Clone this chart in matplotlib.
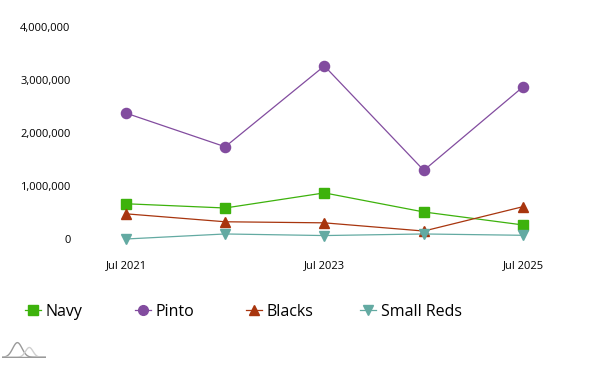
#!/usr/bin/env python3
import datetime as dt
import numpy as np
import matplotlib
matplotlib.use("Agg")
import matplotlib.pyplot as plt
import matplotlib.dates as mdates
from matplotlib.ticker import FuncFormatter
from matplotlib.lines import Line2D

dates = [dt.date(2021, 7, 1), dt.date(2022, 7, 1), dt.date(2023, 7, 1),
         dt.date(2024, 7, 1), dt.date(2025, 7, 1)]
navy = [665000, 585000, 870000, 510000, 265000]
pinto = [2375000, 1740000, 3265000, 1295000, 2870000]
blacks = [475000, 325000, 305000, 150000, 610000]
small_reds = [0, 95000, 65000, 95000, 70000]

series = [
    ("Navy", navy, "#3db20c", "s"),
    ("Pinto", pinto, "#824c9f", "o"),
    ("Blacks", blacks, "#a8350e", "^"),
    ("Small Reds", small_reds, "#63aaa2", "v"),
]

plt.rcParams["font.family"] = ["Open Sans", "DejaVu Sans"]

W, H = 591, 376
fig = plt.figure(figsize=(W / 100, H / 100), dpi=100)
# axes spans exactly from first to last point, 0 to 4M
ax = fig.add_axes([126 / W, 137 / H, (523 - 126) / W, 212 / H])

for name, vals, color, marker in series:
    ax.plot(dates, vals, color=color, lw=0.9, marker=marker, markersize=7.3,
            clip_on=False, label=name)

ax.set_xlim(dates[0], dates[-1])
ax.set_ylim(0, 4000000)
ax.set_yticks([0, 1000000, 2000000, 3000000, 4000000])
ax.yaxis.set_major_formatter(FuncFormatter(lambda v, p: f"{int(v):,}"))
ax.set_xticks([dates[0], dates[2], dates[4]])
ax.xaxis.set_major_formatter(mdates.DateFormatter("%b %Y"))
ax.tick_params(axis="y", length=0, pad=40, labelsize=8)
ax.tick_params(axis="x", length=0, pad=15, labelsize=8)
for s in ax.spines.values():
    s.set_visible(False)

# legend items at fixed spacing
xs = [32, 142, 253, 367]
for (name, vals, color, marker), x in zip(series, xs):
    h = Line2D([], [], color=color, lw=0.9, marker=marker, markersize=7)
    fig.legend(handles=[h], labels=[name], loc="center left",
               bbox_to_anchor=((x - 7) / W, 1 - 312 / H), frameon=False,
               fontsize=11.5, handlelength=1.0, handletextpad=0.3,
               borderaxespad=0, borderpad=0)

# small grey logo
lg = fig.add_axes([2 / W, 1 - 358 / H, 44 / W, 17 / H])
t = np.linspace(0, 1, 100)
lg.plot(t, np.exp(-((t - 0.35) / 0.15) ** 2) * 0.9, color="#9a9a9a", lw=1)
lg.plot(t, np.exp(-((t - 0.62) / 0.12) ** 2) * 0.6, color="#cfcfcf", lw=1)
lg.plot([0, 1], [0, 0], color="#999999", lw=1)
lg.set_xlim(0, 1)
lg.set_ylim(-0.05, 1)
lg.axis("off")

fig.savefig("out.png", dpi=100)
